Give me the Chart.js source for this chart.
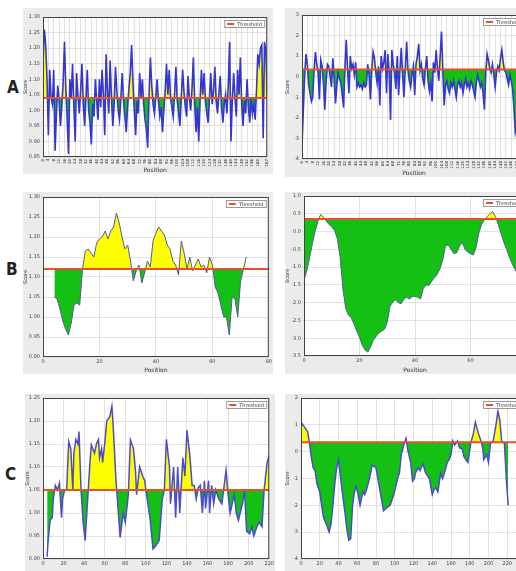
<!DOCTYPE html>
<html>
<head>
<meta charset="utf-8">
<script src="https://cdn.jsdelivr.net/npm/chart.js@4.4.0/dist/chart.umd.min.js"></script>
<style>
  body { margin: 0; background: #fff; }
  #figure { position: relative; width: 516px; height: 571px; overflow: hidden; background: #fff; }
  #figure canvas { position: absolute; }
  .tag { position: absolute; font-family: "DejaVu Sans", sans-serif; font-stretch: condensed; font-weight: bold; font-size: 17px; color: #222; }
</style>
</head>
<body>
<div id="figure">
  <canvas id="aLeft" width="250" height="166" style="left:23px;top:8px"></canvas>
  <canvas id="aRight" width="251" height="169" style="left:285px;top:8px"></canvas>
  <canvas id="bLeft" width="250" height="182" style="left:23px;top:192px"></canvas>
  <canvas id="bRight" width="251" height="182" style="left:285px;top:192px"></canvas>
  <canvas id="cLeft" width="250" height="184" style="left:25px;top:394px"></canvas>
  <canvas id="cRight" width="251" height="184" style="left:285px;top:394px"></canvas>
  <div class="tag" style="left:7px;top:77px">A</div>
  <div class="tag" style="left:6px;top:259px">B</div>
  <div class="tag" style="left:5px;top:464px">C</div>
</div>
<script>
// thresholds per panel
var thrA1 = 1.04, thrA2 = 0.35, thrB1 = 1.12, thrB2 = 0.35, thrC1 = 1.05, thrC2 = 0.35;

// panel A (left) scores, one per position
var scoreA1 = [1.15,1.26,1.21,1.10,0.92,1.13,1.04,1.02,1.13,0.87,0.99,1.08,1.03,0.95,1.01,1.09,1.22,1.07,0.97,0.86,
  1.10,1.04,1.15,1.01,0.90,1.12,1.05,0.99,1.06,1.15,1.02,0.95,1.04,1.13,1.00,0.96,0.89,1.02,0.98,1.10,
  1.03,0.97,1.10,1.01,1.13,1.05,0.92,1.18,1.06,0.99,1.16,1.04,0.95,1.02,1.14,1.06,1.00,0.97,1.04,1.12,
  1.03,0.98,0.93,1.01,1.07,1.12,1.21,1.09,1.00,0.92,1.03,0.99,1.12,1.04,1.10,1.02,0.97,0.94,0.88,1.05,
  1.17,1.08,1.02,0.99,1.04,1.10,1.03,0.98,1.01,0.93,1.00,1.06,1.15,1.05,1.13,1.04,1.01,0.98,1.05,1.14,
  1.03,0.99,0.95,1.04,1.13,1.06,1.01,0.98,1.11,1.04,1.00,1.07,1.17,1.02,0.93,1.01,0.90,1.03,1.13,1.05,
  1.12,1.03,0.99,0.96,1.04,1.12,1.02,1.06,1.14,1.03,0.99,1.05,1.11,1.01,0.96,1.02,1.05,0.99,1.08,1.22,
  0.90,1.03,1.12,1.04,0.98,1.13,1.05,1.17,1.02,0.95,1.03,0.99,1.10,1.01,0.96,1.04,0.99,1.02,0.97,1.06,
  1.18,1.15,1.20,1.21,0.91,1.22,1.19,1.05];

// panel A (right) scores
var scoreA2 = [-3.35,-1.6,0.1,1.1,0.6,-0.4,-0.8,-1.2,-1.0,0.3,1.2,0.6,0.2,-1.1,0.8,0.5,-0.3,-1.6,-0.2,0.6,
  0.5,0.0,-0.5,0.9,-0.2,-1.3,-0.4,0.2,-0.1,-0.3,-0.9,-1.5,0.4,1.8,0.3,-0.8,1.0,0.4,0.6,0.1,
  0.7,-0.5,-0.3,-0.5,-0.4,-0.6,-0.3,-0.5,-0.4,0.6,0.1,-1.1,0.3,1.2,0.9,0.2,-0.3,0.5,-1.4,1.0,
  0.4,0.7,1.3,-0.8,1.1,0.2,-2.1,1.3,0.6,0.2,-0.6,1.0,-0.9,0.3,1.4,0.1,-1.0,0.4,1.7,0.3,
  -0.2,-0.5,0.1,0.5,-0.9,0.6,1.0,1.6,0.3,0.6,-0.1,-0.4,0.4,1.0,-0.2,-0.7,-0.3,-1.2,0.7,0.2,
  1.3,0.4,-0.2,1.0,2.2,0.3,-1.4,-0.4,-0.2,-0.6,-0.8,-0.3,-0.5,-0.2,-0.6,-1.0,-0.4,-0.2,-0.5,-0.3,
  -0.8,-0.4,-0.1,-0.5,-0.3,-0.6,-0.2,-0.4,-0.7,-1.0,-0.3,0.1,-0.2,-0.5,-0.3,-0.8,-1.6,0.2,1.1,0.8,
  0.4,0.2,0.6,0.1,-0.5,0.2,0.5,0.3,0.9,1.3,0.7,0.3,0.2,-0.1,-0.4,0.1,-0.2,-0.6,-1.5,-2.7,
  -2.4,-1.8,-1.0,-0.5,0.2,-0.3,-0.6,-0.2];

// panel B (left), positions 4..72
var startB1 = 4;
var scoreB1 = [1.05,1.045,1.02,0.99,0.97,0.955,0.985,1.03,1.035,1.03,1.12,1.165,1.17,1.16,1.15,1.185,1.195,1.2,1.215,1.195,
  1.215,1.225,1.26,1.235,1.2,1.17,1.18,1.14,1.09,1.115,1.13,1.085,1.11,1.14,1.125,1.19,1.21,1.225,1.215,1.205,
  1.18,1.17,1.14,1.13,1.105,1.19,1.16,1.12,1.15,1.115,1.13,1.145,1.125,1.13,1.11,1.15,1.13,1.075,1.06,1.03,
  1.0,1.0,0.955,1.05,1.045,1.0,1.09,1.12,1.15];

// panel B (right), positions 0..78
var startB2 = 0;
var scoreB2 = [-1.36,-1.1,-0.75,-0.35,0.0,0.28,0.48,0.4,0.3,0.2,0.13,0.03,-0.2,-0.7,-1.6,-2.15,-2.35,-2.42,-2.6,-2.8,
  -2.97,-3.2,-3.33,-3.39,-3.25,-3.05,-2.95,-2.85,-2.8,-2.75,-2.55,-2.1,-1.98,-1.92,-2.0,-2.03,-1.9,-1.85,-1.9,-1.83,
  -1.82,-1.85,-1.9,-1.6,-1.5,-1.52,-1.4,-1.3,-1.2,-1.05,-0.8,-0.4,-0.38,-0.5,-0.62,-0.6,-0.42,-0.3,-0.5,-0.58,
  -0.62,-0.66,-0.45,-0.05,0.2,0.33,0.42,0.5,0.56,0.42,0.2,-0.05,-0.3,-0.5,-0.72,-0.9,-1.06,-1.2,-1.35];

// panel C (left)
var posC1 = [4,5,7,9,10,12,14,16,18,19,21,23,25,27,29,30,32,34,35,37,39,41,44,46,47,50,52,54,55,57,
  58,60,62,65,67,68,71,72,75,78,80,83,85,88,90,91,94,97,99,100,104,107,110,113,116,118,120,123,124,127,
  129,131,133,136,138,140,143,145,147,149,151,153,155,157,158,161,162,164,166,168,171,174,178,180,182,186,188,190,194,196,
  198,201,203,205,208,210,213,215,218,220];
var scoreC1 = [0.905,0.94,0.985,0.99,1.03,1.06,1.05,1.065,0.99,1.03,1.05,1.05,1.155,1.14,1.05,1.13,1.16,1.15,1.177,1.05,
  0.98,0.94,1.05,1.12,1.148,1.13,1.15,1.16,1.12,1.14,1.11,1.15,1.20,1.21,1.232,1.20,1.07,1.04,0.947,1.0,
  0.98,1.04,1.159,1.14,1.09,1.04,1.10,1.08,1.07,1.05,0.99,0.922,0.93,0.94,1.03,1.05,1.16,1.10,1.02,1.10,
  0.99,1.10,1.00,1.12,1.08,1.18,1.12,1.06,1.06,1.03,1.055,1.06,1.00,1.07,1.01,1.07,1.00,1.06,1.02,1.05,
  1.03,1.02,1.093,1.04,1.00,1.04,1.00,0.984,1.02,1.05,0.96,0.955,0.97,0.95,0.97,0.98,0.97,1.05,1.11,1.126];

// panel C (right)
var posC2 = [0,1,3,5,7,9,11,13,15,17,20,22,24,27,30,32,34,36,38,40,42,44,47,49,51,53,55,57,59,61,
  63,66,68,70,73,76,78,80,82,84,86,88,91,93,95,97,99,101,103,105,107,110,112,114,117,119,121,122,125,127,
  130,133,137,140,142,144,146,149,151,153,156,158,160,162,164,167,169,172,174,176,178,181,184,186,189,192,194,195,198,200,
  202,205,208,210,212,214,217,219,221];
var scoreC2 = [1.0,1.05,0.95,0.85,0.75,0.34,-0.2,-0.6,-0.7,-1.2,-1.5,-2.0,-2.45,-2.7,-3.0,-2.7,-2.0,-1.2,-0.6,-0.3,
  -0.9,-1.5,-2.3,-2.9,-3.3,-3.25,-2.0,-1.5,-1.3,-1.6,-2.0,-1.5,-1.6,-1.4,-1.0,-0.5,-0.55,-0.6,-1.0,-1.4,
  -1.8,-2.2,-2.1,-2.05,-2.0,-1.8,-1.6,-1.3,-1.0,-0.8,-0.1,0.3,0.5,0.05,-0.4,-1.1,-1.0,-0.8,-0.6,-0.7,
  -0.45,-0.8,-1.0,-1.6,-1.4,-1.35,-1.5,-0.8,-1.0,-0.8,-0.4,-0.3,-0.1,0.4,0.25,0.4,0.15,0.1,-0.2,-0.3,
  -0.4,0.3,0.7,1.1,0.7,0.4,0.1,-0.3,-0.1,-0.4,0.3,0.4,1.0,1.5,1.2,0.4,0.3,-1.0,-2.0];

var yellow = '#ffff00';
var green = '#13c013';
var red = '#e5502e';

// gray frame, white plot area, plot border and the small legend box
var panelPlugin = {
  id: 'panel',
  beforeDraw: function (chart) {
    var ctx = chart.ctx, a = chart.chartArea;
    ctx.save();
    ctx.fillStyle = '#ebebeb';
    ctx.fillRect(0, 0, chart.width, chart.height);
    ctx.fillStyle = '#ffffff';
    ctx.fillRect(a.left, a.top, a.right - a.left, a.bottom - a.top);
    ctx.restore();
  },
  afterDraw: function (chart) {
    var ctx = chart.ctx, a = chart.chartArea;
    ctx.save();
    ctx.strokeStyle = '#444';
    ctx.lineWidth = 1;
    ctx.strokeRect(a.left + 0.5, a.top + 0.5, a.right - a.left - 1, a.bottom - a.top - 1);
    var w = 41, h = 8;
    var x = a.right - w - 2, y = a.top + 3;
    ctx.fillStyle = '#fff';
    ctx.fillRect(x, y, w, h);
    ctx.strokeStyle = '#999';
    ctx.strokeRect(x + 0.5, y + 0.5, w - 1, h - 1);
    ctx.strokeStyle = red;
    ctx.lineWidth = 2;
    ctx.beginPath();
    ctx.moveTo(x + 3, y + h / 2);
    ctx.lineTo(x + 10, y + h / 2);
    ctx.stroke();
    ctx.fillStyle = '#333';
    ctx.font = '5px "DejaVu Sans", sans-serif';
    ctx.textBaseline = 'middle';
    ctx.fillText('Threshold', x + 13, y + h / 2 + 0.5);
    ctx.restore();
  }
};

function points(xs, ys) {
  return ys.map(function (v, i) { return { x: xs[i], y: v }; });
}

function drawPanel(id, p) {
  var ctx = document.getElementById(id).getContext('2d');
  return new Chart(ctx, {
    type: 'line',
    data: {
      datasets: [{
        label: 'Threshold',
        data: [{ x: p.xMin, y: p.thr }, { x: p.xMax, y: p.thr }],
        borderColor: red,
        borderWidth: 2,
        pointRadius: 0,
        fill: false,
        order: 0
      }, {
        label: 'Score',
        data: p.data,
        borderColor: p.lineColor,
        borderWidth: p.lineWidth,
        pointRadius: 0,
        tension: 0,
        fill: { target: { value: p.thr }, above: yellow, below: green },
        order: 1
      }]
    },
    options: {
      responsive: false,
      animation: false,
      devicePixelRatio: 1,
      layout: { padding: { top: p.pt, right: p.pr, left: 0, bottom: 0 } },
      plugins: { legend: { display: false }, tooltip: { enabled: false } },
      scales: {
        x: {
          type: 'linear',
          min: p.xMin,
          max: p.xMax,
          afterFit: function (s) { s.height = p.xh; },
          grid: { color: '#d9d9d9', lineWidth: 0.8, tickLength: 1 },
          border: { display: false },
          ticks: {
            stepSize: p.xStep,
            autoSkip: false,
            maxRotation: p.xRot,
            minRotation: p.xRot,
            padding: 1,
            color: p.xColor,
            font: { size: p.xFont, family: 'DejaVu Sans' }
          },
          title: { display: true, text: 'Position', color: '#333', padding: 0, font: { size: 6, family: 'DejaVu Sans' } }
        },
        y: {
          min: p.yMin,
          max: p.yMax,
          afterFit: function (s) { s.width = p.yw; },
          grid: { color: '#d9d9d9', lineWidth: 0.8, tickLength: 2 },
          border: { display: false },
          ticks: {
            stepSize: p.yStep,
            padding: 1,
            color: '#444',
            font: { size: 5, family: 'DejaVu Sans' },
            callback: function (v) { return v.toFixed(p.yDec); }
          },
          title: { display: true, text: 'Score', color: '#333', padding: 0, font: { size: 5, family: 'DejaVu Sans' } }
        }
      }
    },
    plugins: [panelPlugin]
  });
}

document.addEventListener('DOMContentLoaded', function () {
  var posA1 = scoreA1.map(function (v, i) { return i; });
  var posA2 = scoreA2.map(function (v, i) { return i; });
  var posB1 = scoreB1.map(function (v, i) { return startB1 + i; });
  var posB2 = scoreB2.map(function (v, i) { return startB2 + i; });

  drawPanel('aLeft', {
    data: points(posA1, scoreA1), thr: thrA1, xMin: 0, xMax: 167, xStep: 4, xRot: 90, xFont: 4, xColor: '#222',
    yMin: 0.85, yMax: 1.30, yStep: 0.05, yDec: 2, lineColor: '#3535d2', lineWidth: 1.6,
    pt: 9, pr: 5, yw: 20, xh: 17
  });

  drawPanel('aRight', {
    data: points(posA2, scoreA2), thr: thrA2, xMin: 0, xMax: 167, xStep: 4, xRot: 90, xFont: 4, xColor: '#222',
    yMin: -4, yMax: 3, yStep: 1, yDec: 0, lineColor: '#3535d2', lineWidth: 1.6,
    pt: 7, pr: 10, yw: 17, xh: 18
  });

  drawPanel('bLeft', {
    data: points(posB1, scoreB1), thr: thrB1, xMin: 0, xMax: 80, xStep: 20, xRot: 0, xFont: 5, xColor: '#444',
    yMin: 0.90, yMax: 1.30, yStep: 0.05, yDec: 2, lineColor: '#5a5a9a', lineWidth: 1,
    pt: 5, pr: 4, yw: 20, xh: 17
  });

  drawPanel('bRight', {
    data: points(posB2, scoreB2), thr: thrB2, xMin: 0, xMax: 80, xStep: 20, xRot: 0, xFont: 5, xColor: '#444',
    yMin: -3.5, yMax: 1.0, yStep: 0.5, yDec: 1, lineColor: '#4a6a8a', lineWidth: 1,
    pt: 3, pr: 10, yw: 19, xh: 18
  });

  drawPanel('cLeft', {
    data: points(posC1, scoreC1), thr: thrC1, xMin: 0, xMax: 220, xStep: 20, xRot: 0, xFont: 5, xColor: '#444',
    yMin: 0.90, yMax: 1.25, yStep: 0.05, yDec: 2, lineColor: '#4b4bcc', lineWidth: 1.5,
    pt: 4, pr: 4, yw: 18, xh: 19
  });

  drawPanel('cRight', {
    data: points(posC2, scoreC2), thr: thrC2, xMin: 0, xMax: 240, xStep: 20, xRot: 0, xFont: 5, xColor: '#444',
    yMin: -4, yMax: 2, yStep: 1, yDec: 0, lineColor: '#4b4bcc', lineWidth: 1.5,
    pt: 4, pr: 10, yw: 16, xh: 19
  });
});
</script>
</body>
</html>
